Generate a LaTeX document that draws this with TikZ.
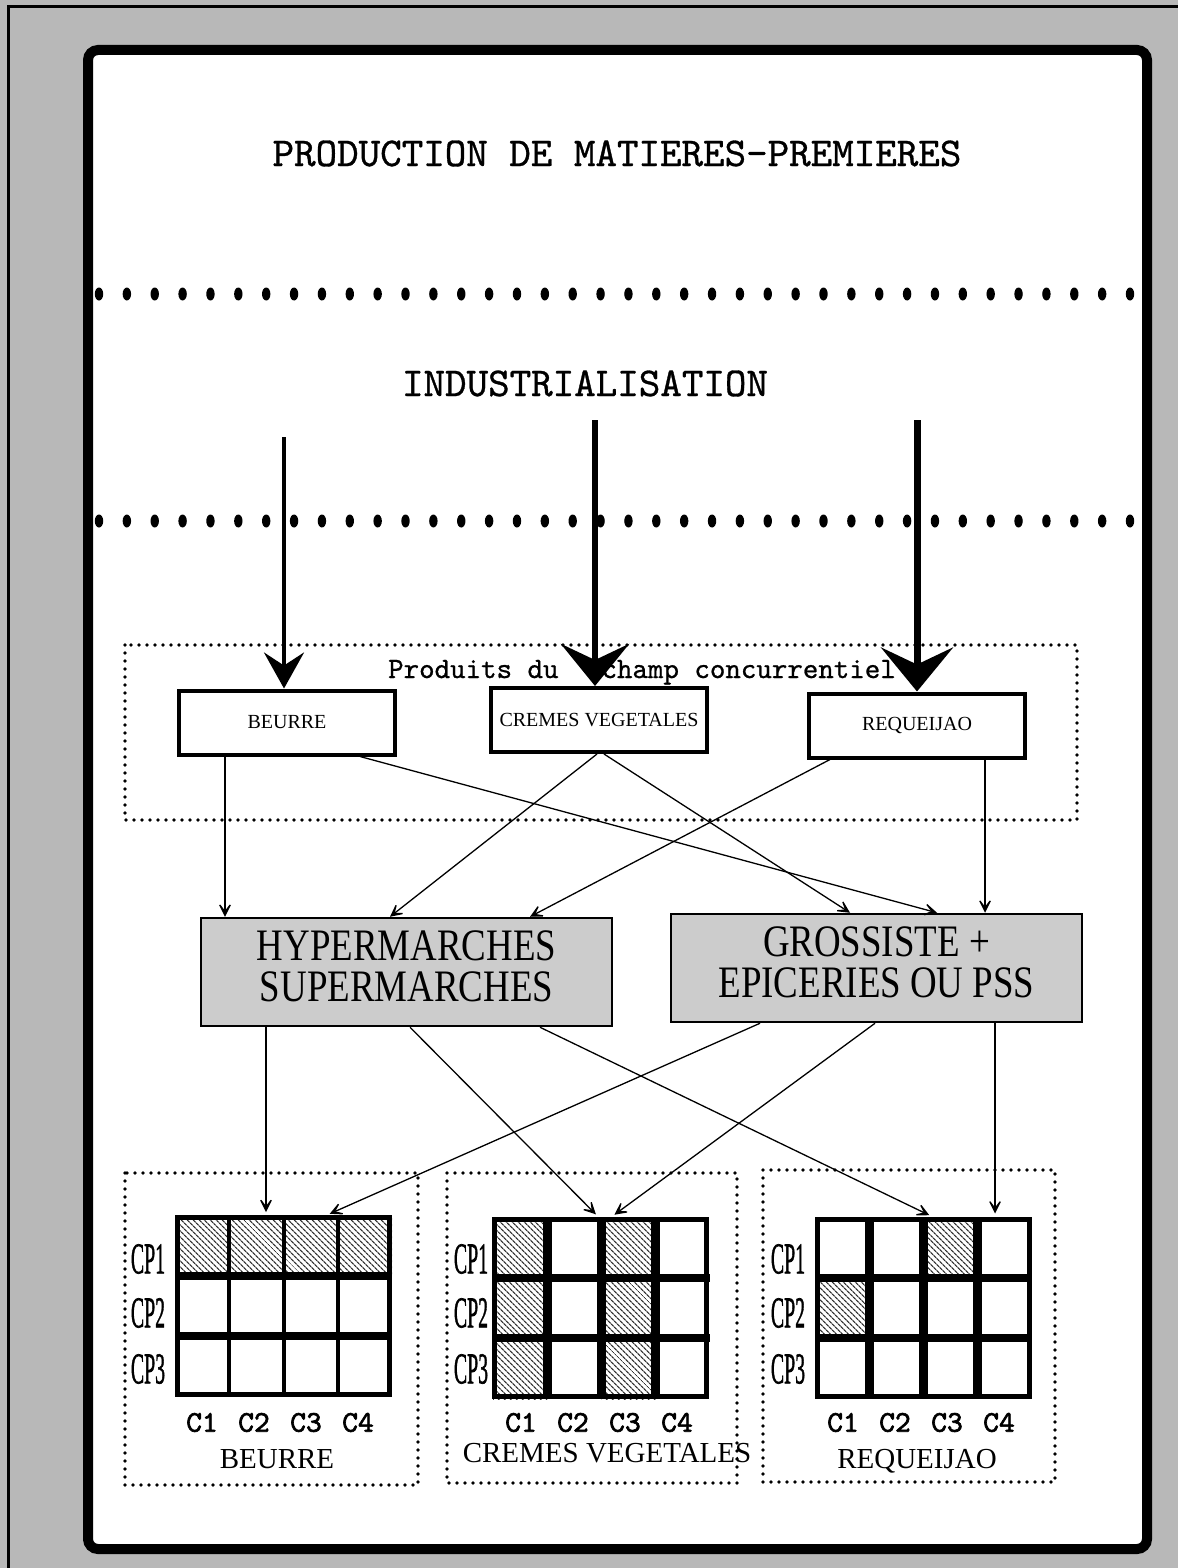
\documentclass[tikz,border=0pt]{standalone}
\usepackage{fontspec}
\usepackage{graphicx}
\setmainfont{Liberation Serif}
\newfontfamily\lmmono[FakeBold=0.8]{lmmono10-regular.otf}
\newfontfamily\lmmonob[FakeBold=2.2]{lmmono10-regular.otf}
\usetikzlibrary{arrows.meta,patterns.meta}
\definecolor{bggray}{gray}{0.72}
\definecolor{boxgray}{gray}{0.80}
\tikzset{
  smalldots/.style={line width=3.6pt, dash pattern=on 0pt off 8pt, line cap=round},
  prodbox/.style={draw, line width=4pt, minimum width=216pt, minimum height=64pt, inner sep=0pt, font=\fontsize{20}{24}\selectfont},
  distbox/.style={draw, line width=2.5pt, fill=boxgray, minimum width=411pt, minimum height=108pt, inner sep=0pt, font=\fontsize{45}{37}\selectfont},
  thinarrow/.style={line width=1.3pt, -{Stealth[length=18pt,width=18pt,inset=12pt]}},
  bigarrowA/.style={line width=4pt, -{Stealth[length=36pt,width=40pt,inset=13pt]}},
  bigarrowB/.style={line width=6pt, -{Stealth[length=42pt,width=68pt,inset=16pt]}},
  bigarrowC/.style={line width=7pt, -{Stealth[length=44pt,width=72pt,inset=17pt]}},
  gridframe/.style={draw, line width=5pt, minimum width=212pt, minimum height=177pt, inner sep=0pt},
  hatch/.style={pattern={Lines[angle=-45,distance=4pt,line width=1.3pt]}, pattern color=black!80},
  monotitle/.style={font=\lmmono\fontsize{41}{44}\selectfont, inner sep=0pt},
  monosub/.style={font=\lmmono\fontsize{29.5}{32}\selectfont, inner sep=0pt},
  cplabel/.style={font=\fontsize{44}{44}\selectfont\addfontfeatures{FakeBold=1.5}, inner sep=0pt},
  clabel/.style={font=\lmmonob\fontsize{30}{30}\selectfont, inner sep=0pt},
  namelabel/.style={font=\fontsize{29}{32}\selectfont, inner sep=0pt},
}
\newcommand\cpl[1]{\scalebox{0.45}[1]{#1}}
\newcommand\gridcells[5]{%
  \begin{scope}[shift={(#1,#2)}]
    \foreach \cc/\rr in {#3} \fill[hatch] ({(\cc-1)*54.25},{(\rr-1)*60.67}) rectangle ++(54.25,60.67);
    \foreach \ii in {1,2,3} \draw[line width=#4] ({\ii*54.25},0) -- ({\ii*54.25},182);
    \foreach \jj in {1,2} \draw[line width=#5] (0,{\jj*60.67}) -- (217,{\jj*60.67});
  \end{scope}}
\begin{document}
\begin{tikzpicture}[x=1pt,y=-1pt]
\useasboundingbox (0,0) rectangle (1178,1568);
% background and frames
\fill[bggray] (0,0) rectangle (1178,1568);
\draw[line width=3pt] (8,1568) -- (8,7) -- (1178,7);
\draw[line width=10pt, rounded corners=10pt, fill=white] (88,50) rectangle (1147,1549);

% titles
\node[monotitle, anchor=base] (title) at (617,166) {PRODUCTION DE MATIERES-PREMIERES};
\node[monotitle, anchor=base] (indus) at (585,396) {INDUSTRIALISATION};

% big dotted separators
\foreach \i in {0,...,37} {
  \fill ({99+\i*27.865},294) ellipse [x radius=4.2, y radius=6.5];
  \fill ({99+\i*27.865},521) ellipse [x radius=4.2, y radius=6.5];
}

% products field
\draw[smalldots] (125,645) rectangle (1077,820);
\node[monosub, anchor=base] (champ) at (642,678) {Produits du\hspace*{43pt}champ concurrentiel};
\node[prodbox] (beurre) at (287,722.5) {BEURRE};
\node[prodbox] (cremes) at (599,720) {CREMES VEGETALES};
\node[prodbox] (requeijao) at (917,725.5) {REQUEIJAO};

% big arrows
\coordinate (a1) at (284,437);
\coordinate (a2) at (595,420);
\coordinate (a3) at (917,420);
\draw[bigarrowA] (a1) -- (a1 |- beurre.north);
\draw[bigarrowB] (a2) -- (a2 |- cremes.north);
\draw[bigarrowC] (a3) -- (a3 |- requeijao.north);

% distribution boxes
\node[distbox] (hyper) at (406.5,972) {\scalebox{0.82}[1]{\begin{tabular}{@{}c@{}}HYPERMARCHES\\SUPERMARCHES\end{tabular}}};
\node[distbox] (gross) at (876.5,968) {\scalebox{0.82}[1]{\begin{tabular}{@{}c@{}}GROSSISTE +\\EPICERIES OU PSS\end{tabular}}};

% arrows products -> distribution
\draw[thinarrow] (225,0 |- beurre.south) -- (225,0 |- hyper.north);
\draw[thinarrow] (360,0 |- beurre.south) -- (937,0 |- gross.north);
\draw[thinarrow] (597,0 |- cremes.south) -- (390,0 |- hyper.north);
\draw[thinarrow] (604,0 |- cremes.south) -- (850,0 |- gross.north);
\draw[thinarrow] (830,0 |- requeijao.south) -- (530,0 |- hyper.north);
\draw[thinarrow] (985,0 |- requeijao.south) -- (985,0 |- gross.north);

% bottom boxes
\draw[smalldots] (125,1173) rectangle (418,1485);
\draw[smalldots] (447,1173) rectangle (737,1483);
\draw[smalldots] (763,1170) rectangle (1055,1482);

% grids
\gridcells{175}{1215}{1/1,2/1,3/1,4/1}{4pt}{8pt}
\node[gridframe] (gb) at (283.5,1306) {};
\gridcells{493}{1217}{1/1,1/2,1/3,3/1,3/2,3/3}{9pt}{8pt}
\node[gridframe] (gc) at (600.5,1307.5) {};
\gridcells{815}{1217}{3/1,1/2}{9pt}{8pt}
\node[gridframe] (gr) at (923.5,1307.5) {};

% row labels
\foreach \gx/\gn in {148/b,471/c,788/r} {
  \node[cplabel] (cp1\gn) at (\gx,1259) {\cpl{CP1}};
  \node[cplabel] (cp2\gn) at (\gx,1313) {\cpl{CP2}};
  \node[cplabel] (cp3\gn) at (\gx,1369) {\cpl{CP3}};
}
% column labels
\foreach \gx/\gn in {202/b,521/c,843/r} {
  \foreach \k in {1,2,3,4} {
    \node[clabel] (c\k\gn) at ({\gx+52*(\k-1)},1422.5) {C\k};
  }
}
% names
\node[namelabel, anchor=base] (nb) at (277,1468) {BEURRE};
\node[namelabel, anchor=base] (nc) at (607,1462) {CREMES VEGETALES};
\node[namelabel, anchor=base] (nr) at (917,1468) {REQUEIJAO};

% arrows distribution -> grids
\draw[thinarrow, shorten >=3pt] (266,0 |- hyper.south) -- (266,0 |- gb.north);
\draw[thinarrow, shorten >=3pt] (410,0 |- hyper.south) -- (598,0 |- gc.north);
\draw[thinarrow, shorten >=3pt] (540,0 |- hyper.south) -- (932,0 |- gr.north);
\draw[thinarrow, shorten >=3pt] (760,0 |- gross.south) -- (327,0 |- gb.north);
\draw[thinarrow, shorten >=3pt] (875,0 |- gross.south) -- (612,0 |- gc.north);
\draw[thinarrow, shorten >=3pt] (995,0 |- gross.south) -- (995,0 |- gr.north);
\end{tikzpicture}
\end{document}
